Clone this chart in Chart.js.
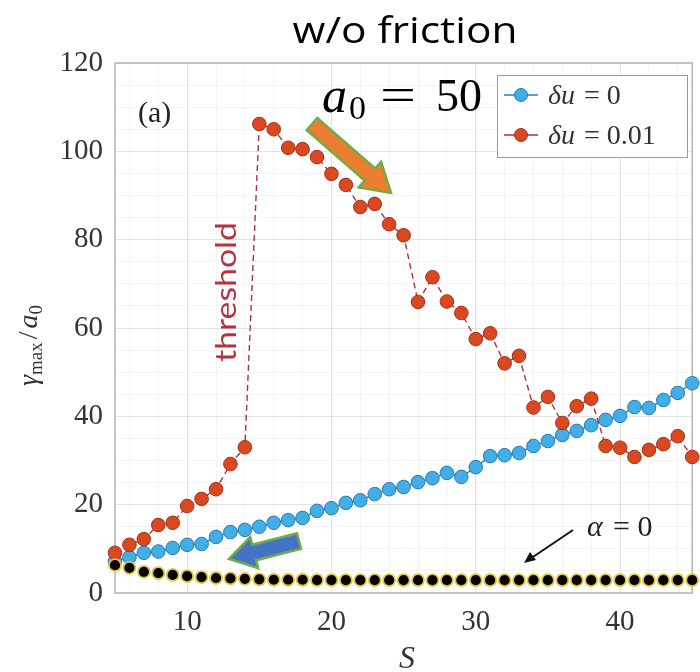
<!DOCTYPE html>
<html>
<head>
<meta charset="utf-8">
<script src="https://cdn.jsdelivr.net/npm/chart.js@4.4.1/dist/chart.umd.min.js"></script>
<style>
  html, body { margin: 0; padding: 0; background: #fff; }
  #wrap { width: 700px; height: 672px; position: relative; }
</style>
</head>
<body>
<div id="wrap"><canvas id="chart" width="700" height="672"></canvas></div>
<script>
// S values (x axis)
const sValues = [5, 6, 7, 8, 9, 10, 11, 12, 13, 14, 15, 16, 17, 18, 19, 20, 21, 22, 23, 24, 25,
  26, 27, 28, 29, 30, 31, 32, 33, 34, 35, 36, 37, 38, 39, 40, 41, 42, 43, 44, 45];

// gamma_max / a0, delta u = 0
const blueValues = [7.2, 8.1, 9.1, 9.4, 10.2, 10.9, 11.1, 12.7, 13.8, 14.3, 15.0, 15.9, 16.5, 17.0, 18.6,
  19.2, 20.4, 21.0, 22.4, 23.5, 24.0, 25.1, 26.0, 27.2, 26.3, 28.5, 31.0, 31.2, 31.7, 33.3, 34.4,
  35.8, 36.7, 38.0, 39.2, 40.1, 42.1, 41.9, 43.7, 45.3, 47.5];

// gamma_max / a0, delta u = 0.01
const redValues = [9.1, 10.9, 12.2, 15.4, 15.9, 19.7, 21.3, 23.5, 29.2, 33.0, 106.2, 105.0, 100.8, 100.5,
  98.7, 94.9, 92.4, 87.4, 88.1, 83.5, 81.0, 65.9, 71.5, 66.0, 63.4, 57.5, 58.8, 52.0, 53.7, 42.0,
  44.4, 38.5, 42.3, 44.0, 33.3, 32.9, 30.8, 32.4, 33.7, 35.5, 30.8];

// gamma_max / a0, alpha = 0
const blackValues = [6.3, 5.7, 4.8, 4.5, 4.1, 3.8, 3.6, 3.4, 3.3, 3.2, 3.1, 3.0, 3.0, 3.0, 2.9,
  2.9, 2.9, 2.9, 2.9, 2.9, 2.9, 2.9, 2.9, 2.9, 2.9, 2.9, 2.9, 2.9, 2.9, 2.9, 2.9,
  2.9, 2.9, 2.9, 2.9, 2.9, 2.9, 2.9, 2.9, 2.9, 2.9];

const xTickLabels = [10, 20, 30, 40];
const yTickLabels = [0, 20, 40, 60, 80, 100, 120];

const toPoints = (ys) => sValues.map((s, i) => ({ x: s, y: ys[i] }));

const serif = '"Liberation Serif", "DejaVu Serif", serif';
const sans = 'Lato, "Open Sans", sans-serif';

function blockArrow(ctx, x1, y1, x2, y2, shaftW, headW, headL, fill, stroke) {
  const ang = Math.atan2(y2 - y1, x2 - x1);
  const len = Math.hypot(x2 - x1, y2 - y1);
  ctx.save();
  ctx.translate(x1, y1);
  ctx.rotate(ang);
  ctx.beginPath();
  ctx.moveTo(0, -shaftW / 2);
  ctx.lineTo(len - headL, -shaftW / 2);
  ctx.lineTo(len - headL, -headW / 2);
  ctx.lineTo(len, 0);
  ctx.lineTo(len - headL, headW / 2);
  ctx.lineTo(len - headL, shaftW / 2);
  ctx.lineTo(0, shaftW / 2);
  ctx.closePath();
  ctx.fillStyle = fill;
  ctx.fill();
  ctx.lineWidth = 2.5;
  ctx.strokeStyle = stroke;
  ctx.stroke();
  ctx.restore();
}

// draws text squeezed or stretched to a given width
function fitText(ctx, text, cx, y, width) {
  const w = ctx.measureText(text).width;
  ctx.save();
  ctx.translate(cx, y);
  ctx.scale(width / w, 1);
  ctx.textAlign = 'center';
  ctx.fillText(text, 0, 0);
  ctx.restore();
}

const framePlugin = {
  id: 'frame',
  beforeDatasetsDraw(chart) {
    const { ctx, chartArea: a } = chart;
    ctx.save();
    ctx.strokeStyle = '#b5b5b5';
    ctx.lineWidth = 1.5;
    ctx.strokeRect(a.left, a.top, a.right - a.left, a.bottom - a.top);
    ctx.restore();
  }
};

const annotationsPlugin = {
  id: 'annotations',
  afterDraw(chart) {
    const { ctx } = chart;
    ctx.save();
    ctx.textBaseline = 'alphabetic';

    // title
    ctx.fillStyle = '#000';
    ctx.font = '37px "Open Sans", Lato, sans-serif';
    fitText(ctx, 'w/o friction', 405, 43, 225);

    // (a)
    ctx.font = '30px ' + serif;
    ctx.textAlign = 'left';
    ctx.fillStyle = '#222';
    ctx.fillText('(a)', 138, 122);

    // a0 = 50
    ctx.fillStyle = '#000';
    ctx.font = 'italic 50px ' + serif;
    ctx.fillText('a', 322, 112);
    ctx.font = '34px ' + serif;
    ctx.fillText('0', 349, 119);
    ctx.font = '46px ' + serif;
    fitText(ctx, '=', 398, 110, 36);
    ctx.textAlign = 'left';
    ctx.fillText('50', 436, 111);

    // threshold
    ctx.save();
    ctx.translate(236, 292);
    ctx.rotate(-Math.PI / 2);
    ctx.fillStyle = '#b8323e';
    ctx.font = '29px ' + sans;
    fitText(ctx, 'threshold', 0, 0, 140);
    ctx.restore();

    // legend
    ctx.fillStyle = '#fff';
    ctx.fillRect(497, 75, 190, 82);
    ctx.strokeStyle = '#9a9a9a';
    ctx.lineWidth = 1;
    ctx.strokeRect(497.5, 75.5, 190, 82);
    const entries = [
      { y: 95, line: '#2c7fb8', fill: '#41aee6', edge: '#2a78b5', val: '0' },
      { y: 135, line: '#a8323e', fill: '#d9481f', edge: '#a33019', val: '0.01' }
    ];
    entries.forEach(e => {
      ctx.strokeStyle = e.line;
      ctx.lineWidth = 1.5;
      ctx.beginPath();
      ctx.moveTo(504, e.y);
      ctx.lineTo(538, e.y);
      ctx.stroke();
      ctx.beginPath();
      ctx.arc(521, e.y, 6.5, 0, Math.PI * 2);
      ctx.fillStyle = e.fill;
      ctx.fill();
      ctx.strokeStyle = e.edge;
      ctx.lineWidth = 1;
      ctx.stroke();
      ctx.fillStyle = '#333';
      ctx.textAlign = 'left';
      ctx.font = 'italic 28px ' + serif;
      ctx.fillText('\u03b4u', 548, e.y + 9);
      ctx.font = '28px ' + serif;
      ctx.fillText('= ' + e.val, 584, e.y + 9);
    });

    // arrows
    blockArrow(ctx, 312, 124, 391, 193, 16, 34, 28, '#ed7d31', '#70ad47');
    blockArrow(ctx, 299, 541, 229, 559, 16, 32, 26, '#4472c4', '#70ad47');

    // alpha = 0
    ctx.fillStyle = '#222';
    ctx.font = 'italic 30px ' + serif;
    ctx.fillText('\u03b1', 587, 536);
    ctx.font = '30px ' + serif;
    ctx.fillText('= 0', 613, 536);
    ctx.strokeStyle = '#111';
    ctx.lineWidth = 2;
    ctx.beginPath();
    ctx.moveTo(573, 530);
    ctx.lineTo(527, 561);
    ctx.stroke();
    ctx.beginPath();
    ctx.moveTo(524, 563);
    ctx.lineTo(530, 552);
    ctx.lineTo(536, 560);
    ctx.closePath();
    ctx.fillStyle = '#111';
    ctx.fill();

    // x label
    ctx.fillStyle = '#333';
    ctx.font = 'italic 32px ' + serif;
    ctx.textAlign = 'center';
    ctx.fillText('S', 407, 668);

    // y label
    ctx.save();
    ctx.translate(37, 328);
    ctx.rotate(-Math.PI / 2);
    ctx.textAlign = 'left';
    let x = -58;
    ctx.font = 'italic 28px ' + serif;
    ctx.fillText('\u03b3', x, 0); x += ctx.measureText('\u03b3').width;
    ctx.font = '19px ' + serif;
    ctx.fillText('max', x, 5); x += ctx.measureText('max').width + 3;
    ctx.font = '28px ' + serif;
    ctx.fillText('/', x, 0); x += ctx.measureText('/').width + 3;
    ctx.font = 'italic 28px ' + serif;
    ctx.fillText('a', x, 0); x += ctx.measureText('a').width;
    ctx.font = '19px ' + serif;
    ctx.fillText('0', x, 5);
    ctx.restore();

    ctx.restore();
  }
};

new Chart(document.getElementById('chart'), {
  type: 'line',
  data: {
    datasets: [
      {
        label: 'alpha = 0',
        data: toPoints(blackValues),
        showLine: false,
        pointRadius: 6,
        pointBackgroundColor: '#070200',
        pointBorderColor: '#e3c845',
        pointBorderWidth: 1.8,
        order: 1,
        clip: false
      },
      {
        label: '\u03b4u = 0.01',
        data: toPoints(redValues),
        borderColor: '#a8323e',
        borderWidth: 1.4,
        borderDash: [6, 4],
        pointRadius: 6.8,
        pointBackgroundColor: '#d9481f',
        pointBorderColor: '#a33019',
        pointBorderWidth: 1,
        order: 2,
        clip: false
      },
      {
        label: '\u03b4u = 0',
        data: toPoints(blueValues),
        borderColor: '#2c7fb8',
        borderWidth: 1.4,
        pointRadius: 6.8,
        pointBackgroundColor: '#41aee6',
        pointBorderColor: '#2a78b5',
        pointBorderWidth: 1,
        order: 3,
        clip: false
      }
    ]
  },
  options: {
    responsive: false,
    animation: false,
    layout: { padding: { top: 63, right: 2, left: 0, bottom: 0 } },
    plugins: {
      legend: { display: false },
      tooltip: { enabled: false }
    },
    scales: {
      x: {
        type: 'linear',
        min: 5,
        max: 45,
        border: { display: false },
        afterBuildTicks: (scale) => {
          const ticks = [];
          for (let v = 6; v <= 44; v += 2) ticks.push({ value: v });
          scale.ticks = ticks;
        },
        grid: {
          drawTicks: false,
          color: (c) => (c.tick && c.tick.value % 10 === 0) ? '#e2e2e2' : '#f4f4f4'
        },
        ticks: {
          autoSkip: false,
          maxRotation: 0,
          padding: 12,
          color: '#333',
          font: { family: serif, size: 29 },
          callback: (v) => xTickLabels.includes(v) ? String(v) : ''
        },
        afterFit: (scale) => { scale.height = 79; }
      },
      y: {
        min: 0,
        max: 120,
        border: { display: false },
        grid: {
          drawTicks: false,
          color: (c) => (c.tick && c.tick.value % 20 === 0) ? '#e2e2e2' : '#f4f4f4'
        },
        ticks: {
          stepSize: 5,
          autoSkip: false,
          padding: 12,
          color: '#333',
          font: { family: serif, size: 29 },
          callback: (v) => yTickLabels.includes(v) ? String(v) : ''
        },
        afterFit: (scale) => { scale.width = 115; }
      }
    }
  },
  plugins: [framePlugin, annotationsPlugin]
});
</script>
</body>
</html>
